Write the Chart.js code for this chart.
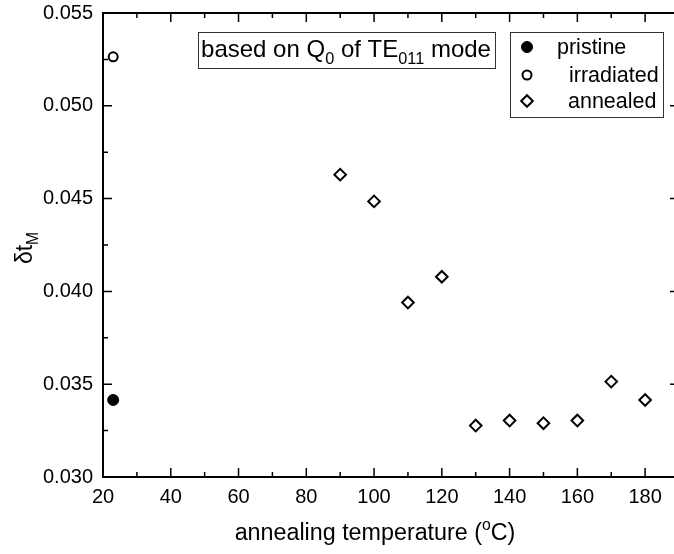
<!DOCTYPE html>
<html>
<head>
<meta charset="utf-8">
<script src="https://cdn.jsdelivr.net/npm/chart.js@4/dist/chart.umd.min.js"></script>
<style>
html,body{margin:0;padding:0;background:#fff;overflow:hidden;width:674px;height:554px;}
#wrap{position:absolute;left:0;top:0;width:700px;height:554px;}
</style>
</head>
<body>
<div id="wrap"><canvas id="c" width="700" height="554"></canvas></div>
<script>
// ---- data ----
const pristineX = [23];
const pristineY = [0.03415];
const irradiatedX = [23];
const irradiatedY = [0.05264];
const annealedX = [90, 100, 110, 120, 130, 140, 150, 160, 170, 180];
const annealedY = [0.04629, 0.04485, 0.0394, 0.04079, 0.03277, 0.03304, 0.0329, 0.03304, 0.03514, 0.03415];
const xTickLabels = [20, 40, 60, 80, 100, 120, 140, 160, 180];
const yTickLabels = [0.030, 0.035, 0.040, 0.045, 0.050, 0.055];
const seriesNames = ['pristine', 'irradiated', 'annealed'];

const FONT = '"Liberation Sans", Arial, Helvetica, sans-serif';

function pts(xs, ys){ return xs.map((x,i)=>({x:x, y:ys[i]})); }

function drawRich(ctx, parts, x, y, size, align){
  let w = 0;
  const pieces = parts.map(p=>{
    const fs = (p.sub||p.sup) ? size*0.68 : size;
    ctx.font = fs + 'px ' + FONT;
    const pw = ctx.measureText(p.t).width;
    w += pw;
    return {p, fs, pw};
  });
  let cx = align === 'center' ? x - w/2 : (align === 'right' ? x - w : x);
  ctx.textAlign = 'left';
  ctx.textBaseline = 'alphabetic';
  pieces.forEach(({p, fs, pw})=>{
    ctx.font = fs + 'px ' + FONT;
    let dy = 0;
    if (p.sub) dy = size*0.28;
    if (p.sup) dy = -size*0.42;
    ctx.fillText(p.t, cx, y + dy);
    cx += pw;
  });
  return w;
}

const framePlugin = {
  id: 'frame',
  afterDraw(chart){
    const ctx = chart.ctx;
    const xs = chart.scales.x, ys = chart.scales.y;
    const a = chart.chartArea;
    ctx.save();
    ctx.strokeStyle = '#000';
    ctx.fillStyle = '#000';
    ctx.lineWidth = 2;
    ctx.strokeRect(a.left, a.top, a.right - a.left, a.bottom - a.top);
    ctx.lineWidth = 1.5;
    for (let v = 20; v <= 190; v += 10){
      const px = xs.getPixelForValue(v);
      const len = (v % 20 === 0) ? 9 : 5;
      ctx.beginPath();
      ctx.moveTo(px, a.bottom); ctx.lineTo(px, a.bottom - len);
      ctx.moveTo(px, a.top); ctx.lineTo(px, a.top + len);
      ctx.stroke();
    }
    for (let i = 0; i <= 10; i++){
      const v = 0.030 + i*0.0025;
      const py = ys.getPixelForValue(v);
      const len = (i % 2 === 0) ? 9 : 5;
      ctx.beginPath();
      ctx.moveTo(a.left, py); ctx.lineTo(a.left + len, py);
      ctx.moveTo(a.right, py); ctx.lineTo(a.right - len, py);
      ctx.stroke();
    }
    // text box
    ctx.lineWidth = 1;
    ctx.strokeStyle = '#333';
    ctx.strokeRect(198.5, 32.5, 297, 36);
    ctx.fillStyle = '#000';
    drawRich(ctx, [{t:'based on Q'},{t:'0',sub:true},{t:' of TE'},{t:'011',sub:true},{t:' mode'}], 346, 57, 24, 'center');
    // legend
    ctx.strokeStyle = '#333';
    ctx.strokeRect(510.5, 32.5, 153, 85);
    const rowsY = [47, 75, 101];
    const textX = [557, 569, 568];
    chart.data.datasets.forEach((ds, i)=>{
      const opts = {pointStyle: ds.pointStyle, radius: ds.pointRadius, rotation: 0, borderWidth: ds.pointBorderWidth};
      ctx.strokeStyle = '#000';
      ctx.fillStyle = ds.pointBackgroundColor;
      ctx.lineWidth = ds.pointBorderWidth;
      Chart.helpers.drawPoint(ctx, opts, 527, rowsY[i]);
      ctx.fillStyle = '#000';
      ctx.font = '21.5px ' + FONT;
      ctx.textAlign = 'left';
      ctx.textBaseline = 'middle';
      ctx.fillText(ds.label, textX[i], rowsY[i] + 1);
    });
    // axis titles
    ctx.fillStyle = '#000';
    drawRich(ctx, [{t:'annealing temperature ('},{t:'o',sup:true},{t:'C)'}], 375, 540, 23.3, 'center');
    ctx.save();
    ctx.translate(32, 248);
    ctx.rotate(-Math.PI/2);
    drawRich(ctx, [{t:'\u03B4t'},{t:'M',sub:true}], 0, 0, 23, 'center');
    ctx.restore();
    ctx.restore();
  }
};

new Chart(document.getElementById('c'), {
  type: 'scatter',
  data: {
    datasets: [
      {label: seriesNames[0], data: pts(pristineX, pristineY), pointStyle: 'circle', pointRadius: 5.5,
       pointBackgroundColor: '#000', pointBorderColor: '#000', pointBorderWidth: 1},
      {label: seriesNames[1], data: pts(irradiatedX, irradiatedY), pointStyle: 'circle', pointRadius: 4.5,
       pointBackgroundColor: '#fff', pointBorderColor: '#000', pointBorderWidth: 2},
      {label: seriesNames[2], data: pts(annealedX, annealedY), pointStyle: 'rectRot', pointRadius: 5.8,
       pointBackgroundColor: '#fff', pointBorderColor: '#000', pointBorderWidth: 2}
    ]
  },
  options: {
    responsive: false,
    animation: false,
    devicePixelRatio: 1,
    layout: {padding: {top: 13, right: 21, left: 0, bottom: 0}},
    plugins: {legend: {display: false}, tooltip: {enabled: false}},
    scales: {
      x: {
        type: 'linear', min: 20, max: 190,
        afterBuildTicks(s){ s.ticks = xTickLabels.map(v=>({value:v})); },
        afterFit(s){ s.height = 77; s.paddingLeft = 0; s.paddingRight = 0; },
        grid: {display: false, drawTicks: false},
        border: {display: false},
        ticks: {color: '#000', font: {family: FONT, size: 20}, padding: 8, maxRotation: 0}
      },
      y: {
        type: 'linear', min: 0.030, max: 0.055,
        afterBuildTicks(s){ s.ticks = yTickLabels.map(v=>({value:v})); },
        afterFit(s){ s.width = 103; s.paddingTop = 0; s.paddingBottom = 0; },
        grid: {display: false, drawTicks: false},
        border: {display: false},
        ticks: {color: '#000', font: {family: FONT, size: 20}, padding: 10,
          callback: v => Number(v).toFixed(3)}
      }
    }
  },
  plugins: [framePlugin]
});
</script>
</body>
</html>
